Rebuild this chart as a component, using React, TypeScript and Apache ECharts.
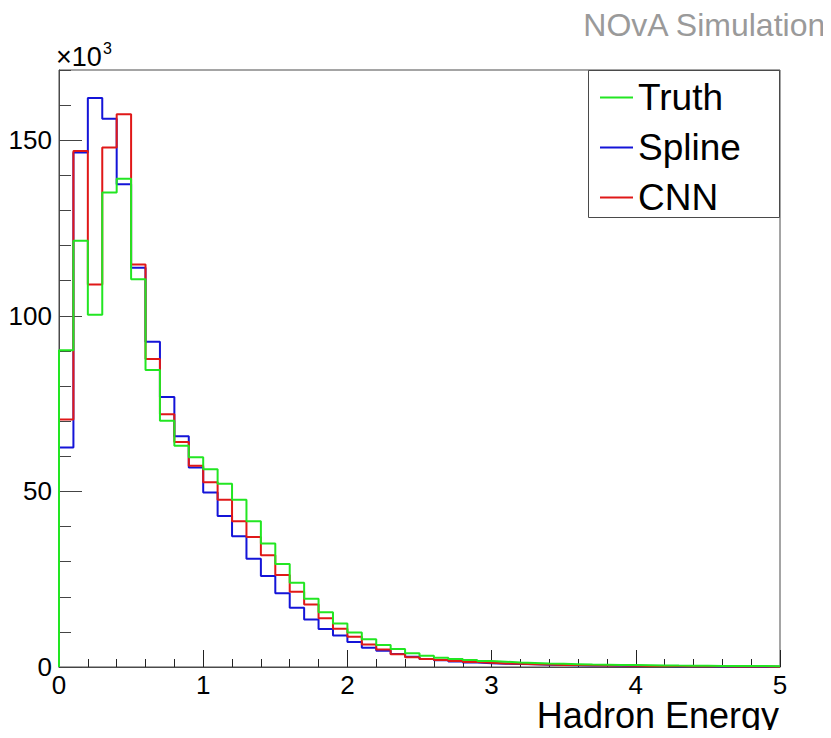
import React, { useEffect, useRef } from "react";
import * as echarts from "echarts";

// Histogram binning: 50 bins from 0 to 5 GeV
const BIN_MIN = 0;
const BIN_WIDTH = 0.1;

// Bin contents (x10^3 entries)
const truthValues = [
  90.2, 121.4, 100.3, 135.1, 139.0, 110.4, 84.6, 70.1, 63.0, 59.7,
  56.3, 52.2, 47.6, 41.5, 35.2, 29.3, 24.0, 19.4, 15.6, 12.4,
  9.8, 7.9, 6.3, 5.1, 3.9, 3.2, 2.6, 2.3, 2.0, 1.7,
  1.5, 1.3, 1.15, 1.0, 0.9, 0.8, 0.7, 0.65, 0.6, 0.55,
  0.5, 0.45, 0.4, 0.38, 0.35, 0.32, 0.3, 0.28, 0.25, 0.22,
];
const splineValues = [
  62.5, 146.5, 162.0, 156.1, 137.5, 113.7, 92.6, 76.9, 65.7, 56.8,
  49.7, 43.0, 37.2, 30.8, 25.9, 21.0, 16.9, 13.5, 10.8, 9.0,
  7.1, 5.5, 4.6, 3.7, 2.9, 2.3, 1.9, 1.6, 1.3, 1.1,
  0.95, 0.85, 0.75, 0.65, 0.55, 0.5, 0.45, 0.4, 0.35, 0.3,
  0.28, 0.25, 0.22, 0.2, 0.18, 0.15, 0.13, 0.12, 0.1, 0.1,
];
const cnnValues = [
  70.5, 146.9, 108.9, 147.9, 157.4, 114.6, 87.7, 72.0, 64.1, 57.3,
  52.6, 47.6, 41.5, 37.0, 31.8, 26.2, 21.4, 17.8, 13.9, 10.9,
  8.6, 6.4, 5.0, 3.6, 2.8, 2.3, 2.0, 1.7, 1.4, 1.2,
  1.0, 0.9, 0.8, 0.7, 0.6, 0.55, 0.5, 0.45, 0.4, 0.35,
  0.3, 0.28, 0.25, 0.22, 0.2, 0.18, 0.15, 0.13, 0.12, 0.1,
];

const seriesNames = ["Truth", "Spline", "CNN"];
const seriesColors = { Truth: "#22e622", Spline: "#1414d8", CNN: "#e01818" };

const xTicksMajor = [0, 1, 2, 3, 4, 5];
const yTicksMajor = [0, 50, 100, 150];
const xTitle = "Hadron Energy";

const FONT = "'Liberation Sans', Arial, Helvetica, sans-serif";
const FRAME = "#4a4a4a";

function stepData(values: number[]) {
  const pts: number[][] = [[BIN_MIN, 0]];
  values.forEach((v, i) => pts.push([BIN_MIN + i * BIN_WIDTH, v]));
  pts.push([BIN_MIN + values.length * BIN_WIDTH, values[values.length - 1]]);
  return pts;
}

export default function App() {
  const ref = useRef<HTMLDivElement>(null);
  useEffect(() => {
    if (!ref.current) return;
    const chart = echarts.init(ref.current, undefined, { renderer: "svg" });
    const mkSeries = (name: string, values: number[]) => ({
      name,
      type: "line",
      step: "end",
      data: stepData(values),
      showSymbol: false,
      symbol: "none",
      lineStyle: { color: (seriesColors as any)[name], width: 2 },
      itemStyle: { color: (seriesColors as any)[name] },
      xAxisIndex: 0,
      yAxisIndex: 0,
    });
    chart.setOption({
      animation: false,
      backgroundColor: "#ffffff",
      title: {
        text: "NOvA Simulation",
        right: 4,
        top: 9,
        padding: 0,
        textStyle: { color: "#9a9a9a", fontSize: 32, fontWeight: "normal", fontFamily: FONT },
      },
      grid: {
        left: 59,
        top: 70,
        width: 721,
        height: 597,
        outerBoundsMode: "none",
        containLabel: false,
        show: true,
        borderColor: FRAME,
        borderWidth: 1,
        backgroundColor: "transparent",
      },
      legend: {
        orient: "vertical",
        left: 595,
        top: 74,
        itemWidth: 33,
        itemHeight: 2,
        itemGap: 13,
        icon: "rect",
        data: seriesNames,
        textStyle: { fontSize: 37, color: "#000", fontFamily: FONT },
      },
      xAxis: [
        {
          type: "value",
          min: xTicksMajor[0],
          max: xTicksMajor[xTicksMajor.length - 1],
          interval: 1,
          position: "bottom",
          axisLine: { show: true, lineStyle: { color: FRAME, width: 1 } },
          axisTick: { show: true, inside: true, length: 17, lineStyle: { color: "#222" } },
          axisLabel: { fontSize: 26, lineHeight: 18, color: "#000", fontFamily: FONT, margin: 9 },
          splitLine: { show: false },
        },
        {
          type: "value",
          min: 0,
          max: 5,
          interval: 0.2,
          position: "bottom",
          axisLine: { show: false },
          axisTick: { show: true, inside: true, length: 8, lineStyle: { color: "#222" } },
          axisLabel: { show: false },
          splitLine: { show: false },
        },
      ],
      yAxis: [
        {
          type: "value",
          min: yTicksMajor[0],
          max: 170,
          interval: 50,
          position: "left",
          axisLine: { show: true, lineStyle: { color: FRAME, width: 1 } },
          axisTick: { show: true, inside: true, length: 23, lineStyle: { color: "#444" } },
          axisLabel: {
            fontSize: 26,
            color: "#000",
            fontFamily: FONT,
            margin: 7,
            showMaxLabel: false,
          },
          splitLine: { show: false },
        },
        {
          type: "value",
          min: 0,
          max: 170,
          interval: 10,
          position: "left",
          axisLine: { show: false },
          axisTick: { show: true, inside: true, length: 12, lineStyle: { color: "#444" } },
          axisLabel: { show: false },
          splitLine: { show: false },
        },
      ],
      graphic: [
        {
          type: "rect",
          shape: { x: 588.5, y: 70.5, width: 191, height: 147 },
          style: { fill: "rgba(0,0,0,0)", stroke: FRAME, lineWidth: 1 },
          z: 10,
        },
        {
          type: "text",
          left: 56,
          top: 43,
          style: { text: "×10", fontSize: 27, fill: "#000", fontFamily: FONT },
        },
        {
          type: "text",
          left: 103,
          top: 40,
          style: { text: "3", fontSize: 16, fill: "#000", fontFamily: FONT },
        },
        {
          type: "text",
          right: 52,
          top: 697,
          style: { text: xTitle, fontSize: 36, fill: "#000", fontFamily: FONT },
        },
      ],
      series: [
        mkSeries("Spline", splineValues),
        mkSeries("CNN", cnnValues),
        mkSeries("Truth", truthValues),
      ],
    });
    return () => chart.dispose();
  }, []);
  return <div ref={ref} style={{ width: 831, height: 738, margin: -8 }} />;
}
